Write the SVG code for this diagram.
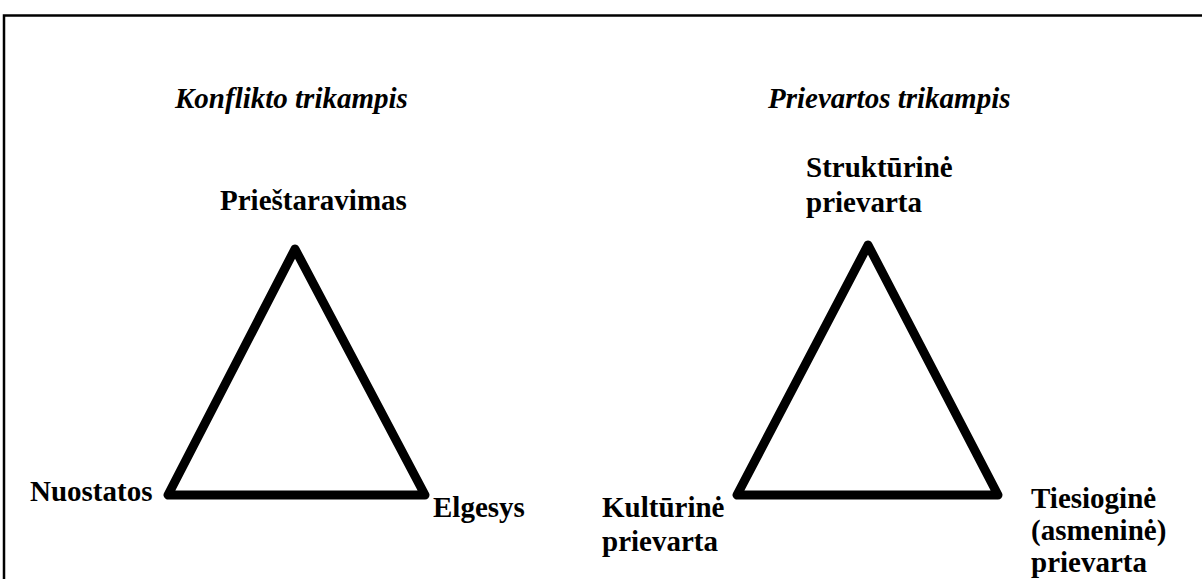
<svg xmlns="http://www.w3.org/2000/svg" width="1202" height="579" viewBox="0 0 1202 579">
<style>
.t{font-family:"Liberation Serif","Times New Roman",serif;font-weight:bold;font-size:29px;fill:#000}
.ti{font-style:italic}
.tri{fill:none;stroke:#000;stroke-width:9;stroke-linejoin:round;stroke-linecap:round}
</style>
<rect x="0" y="0" width="1202" height="579" fill="#fff"/>
<path d="M4 590 V15.5 H1210" fill="none" stroke="#000" stroke-width="2.5"/>
<g id="titles">
<text class="t ti" x="175" y="108">Konflikto trikampis</text>
<text class="t ti" x="768" y="108">Prievartos trikampis</text>
</g>
<g id="connectors">
<polygon class="tri" points="295,249 168,495 425,495"/>
<polygon class="tri" points="868,245 737,495 998,495"/>
</g>
<g id="n-priestaravimas"><text class="t" x="220" y="210">Prieštaravimas</text></g>
<g id="n-nuostatos"><text class="t" x="30" y="501">Nuostatos</text></g>
<g id="n-elgesys"><text class="t" x="433" y="517">Elgesys</text></g>
<g id="n-strukturine"><text class="t" x="806" y="177">Struktūrinė<tspan x="806" y="212">prievarta</tspan></text></g>
<g id="n-kulturine"><text class="t" x="602" y="517">Kultūrinė<tspan x="602" y="551">prievarta</tspan></text></g>
<g id="n-tiesiogine"><text class="t" x="1031" y="508">Tiesioginė<tspan x="1031" y="540">(asmeninė)</tspan><tspan x="1031" y="572">prievarta</tspan></text></g>
</svg>
